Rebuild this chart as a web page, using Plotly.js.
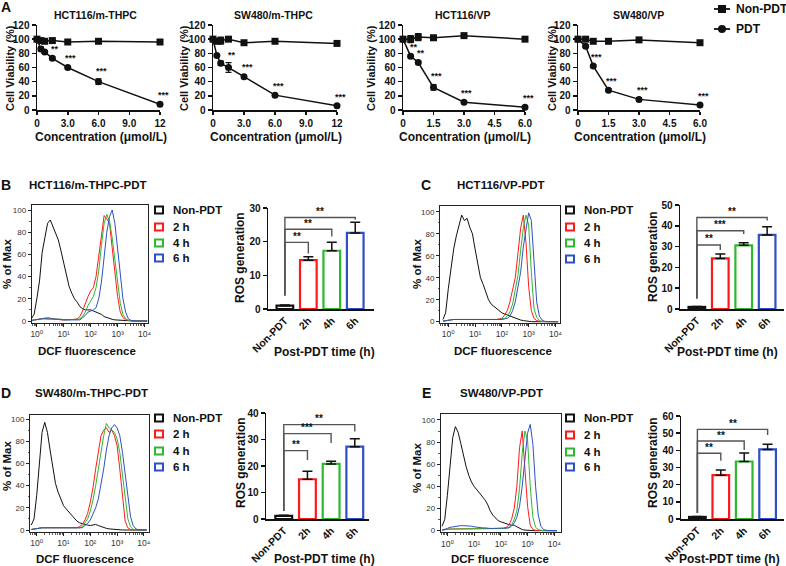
<!DOCTYPE html>
<html><head><meta charset="utf-8">
<script src="https://cdn.plot.ly/plotly-3.0.1.min.js"></script>
<style>html,body{margin:0;padding:0;background:#fff}#chart{width:786px;height:566px}</style>
</head><body><div id="chart"></div>
<script>
// ---------------- DATA ----------------
// Panel A: cell viability
const doseMTHPC = [0, 0.375, 0.75, 1.5, 3, 6, 12];
const doseVP = [0, 0.375, 0.75, 1.5, 3, 6];
const tickMTHPC = [0, 3, 6, 9, 12];
const tickMTHPCText = ['0', '3.0', '6.0', '9.0', '12'];
const tickVP = [0, 1.5, 3, 4.5, 6];
const tickVPText = ['0', '1.5', '3.0', '4.5', '6.0'];

const hctM_non = [100, 98, 97, 98, 96, 97, 96];
const hctM_nonErr = [0, 1, 1, 1, 1, 2, 1.5];
const hctM_pdt = [100, 86, 82, 73, 60, 40, 8];
const hctM_pdtErr = [0, 3, 2, 2, 1.5, 4, 1.5];
const hctM_sig = ['', '', '', '**', '***', '***', '***'];

const swM_non = [100, 97, 98, 100, 95, 97, 94];
const swM_nonErr = [0, 2, 5, 1, 2, 2, 1.5];
const swM_pdt = [100, 77, 66, 60, 47, 21, 6];
const swM_pdtErr = [0, 1.5, 3, 7, 2, 1.5, 1];
const swM_sig = ['', '', '', '**', '***', '***', '***'];

const hctV_non = [100, 100, 103, 102, 105, 100];
const hctV_nonErr = [0, 5, 5, 2, 1.5, 1.5];
const hctV_pdt = [100, 76, 67, 32, 11, 4];
const hctV_pdtErr = [0, 2, 2, 4, 1.5, 1];
const hctV_sig = ['', '**', '**', '***', '***', '***'];

const swV_non = [100, 100, 97, 97, 99, 95];
const swV_nonErr = [0, 1, 1, 1, 2, 1.5];
const swV_pdt = [100, 90, 62, 28, 15, 7];
const swV_pdtErr = [0, 2, 2, 2, 2, 1];
const swV_sig = ['', '', '***', '***', '***', '***'];

// Histograms: log10 of DCF fluorescence, % of max
const histLogX = [-0.2,-0.1,0,0.1,0.2,0.3,0.4,0.5,0.6,0.7,0.8,0.9,1,1.1,1.2,1.3,1.4,1.5,1.6,1.7,1.8,1.9,2,2.1,2.2,2.3,2.4,2.5,2.6,2.7,2.8,2.9,3,3.1,3.2,3.3,3.4,3.5,3.6,3.7,3.8,3.9,4,4.1];
const histTickVals = [1, 10, 100, 1000, 10000];
const histTickText = ['10⁰', '10¹', '10²', '10³', '10⁴'];
const histSeries = ['Non-PDT', '2 h', '4 h', '6 h'];

const histB_non = [2,6,20,36,62,77,88,91,85,80, 73,63,52,43,31,25,20,17,13,11, 10,10,10,9,8,7,6,4,3,2, 1.5,1,0.8,0.5,0.3,0.2,0,0,0,0, 0,0,0,0];
const histB_2h  = [0.5,1,1.5,2,2.5,3,3,2.5,2,1.5, 1.2,1,1,1,1,1,1.5,2,4,9, 16,22,27,30,40,58,80,95,92,88, 66,42,22,8,3,1,0.5,0,0,0, 0,0,0,0];
const histB_4h  = [0.5,1,1.5,2,2,2,2,2,2,1.5, 1.5,1.5,1,1,1,1,1,1.5,2,4, 8,14,18,22,30,45,68,88,96,90, 75,55,32,16,6,2,0.5,0,0,0, 0,0,0,0];
const histB_6h  = [0.5,1,1.5,2,2,2,2,2,2,1.5, 1.5,1.5,1,1,1,1,1,1,1,3, 5,8,9,10,12,20,35,58,80,94, 100,88,65,40,20,8,2,0.5,0,0, 0,0,0,0];

const histC_non = [2,8,30,48,66,78,88,97,92,94, 86,80,66,52,40,34,26,20,16,14, 12,10,8,7,6,5,4,3,2,1.5, 1,0.5,0.3,0,0,0,0,0,0,0, 0,0,0,0];
const histC_2h  = [0.5,1,1.5,2,2,2,2,2,2,2, 2,2,2,1.5,1.5,1.5,1.5,1.5,1.5,2, 2,2.5,3,6,10,18,28,40,62,85, 97,72,32,10,3,1,0.3,0,0,0, 0,0,0,0];
const histC_4h  = [0.5,1,1.5,2,2,2,2,2,2,2, 2,2,2,1.5,1.5,1.5,1.5,1.5,1.5,2, 2,2,2.5,3,5,9,16,28,42,65, 85,97,88,45,12,4,1,0.3,0,0, 0,0,0,0];
const histC_6h  = [0.5,1,1.5,2,2,2,2,2,2,2, 2,2,2,1.5,1.5,1.5,1.5,1.5,1.5,2, 2,2,2,2.5,3,5,10,18,30,45, 68,85,99,92,50,18,5,1.5,0.3,0, 0,0,0,0];

const histD_non = [4.5,10,31,60,88,97,88,72,56,42, 34,27,22,19,16,13,10,8,6.5,5.5, 5,4.5,4,4.5,5,4,3,2,1.5,1, 0.7,0.4,0.2,0,0,0,0,0,0,0, 0,0,0,0];
const histD_2h  = [0.5,1,1.5,2,2,2,2,2,2,2, 2,1.5,1.5,1.5,1.5,1.5,2,2,3,5, 9,15,25,38,55,72,85,90,92,88, 90,85,76,55,28,8,2,0.5,0,0, 0,0,0,0];
const histD_4h  = [0.5,1,1.5,2,2,2,2,2,2,2, 2,1.5,1.5,1.5,1.5,1.5,2,1.5,2,3, 6,10,17,27,40,55,72,85,96,92, 90,88,82,70,50,28,10,3,0.5,0, 0,0,0,0];
const histD_6h  = [0.5,1,1.5,2,2,2,2,2,2,2, 2,1.5,1.5,1.5,1.5,1.5,2,1.5,1.5,2, 4,6,9,14,20,28,40,55,72,85, 92,95,92,85,70,50,28,12,4,1, 0.2,0,0,0];

const histE_non = [4,10,32,57,84,94,89,79,68,58, 50,44,40,37,35,31,28,24,18,14, 11,9,8,7,6,5.5,5,5,3.5,2, 1,0.5,0.2,0,0,0,0,0,0,0, 0,0,0,0];
const histE_2h  = [0.5,1,1.5,1.5,1.5,1.5,1.5,1.5,1.5,1.5, 1.5,1.5,1.5,1.5,1.5,1.5,1.5,1.5,1.5,1.5, 1.5,1.5,1.5,2,3,5,10,20,40,75, 90,60,22,5,1,0.3,0,0,0,0, 0,0,0,0];
const histE_4h  = [0.5,1,1.5,1.5,1.5,1.5,1.5,1.5,1.5,1.5, 1.5,1.5,1.5,1.5,1.5,1.5,1.5,1.5,1.5,1.5, 1.5,1.5,1.5,1.5,2,3,5,10,18,38, 70,90,82,40,12,3,1,0.3,0,0, 0,0,0,0];
const histE_6h  = [0.5,1,2,3,3.5,4,4.5,4.5,4.5,4.5, 4,4,3.5,3,3,2.5,2.5,2,2,2, 2,2,2,2,2,2.5,4,7,12,22, 40,65,88,96,78,40,14,4,1,0.3, 0,0,0,0];

// ROS bar charts
const barCats = ['Non-PDT', '2h', '4h', '6h'];
const rosB = [1, 14.5, 17.3, 22.6];   const rosB_err = [0.2, 1.0, 2.5, 3.2];
const rosC = [1, 24.3, 30.6, 35.6];   const rosC_err = [0.2, 2.2, 1.3, 4.0];
const rosD = [1.2, 15, 20.8, 27.3];   const rosD_err = [0.2, 3, 1, 3];
const rosE = [1.2, 25.5, 33.5, 40.5]; const rosE_err = [0.3, 3, 5, 3];
const sigB = ['**', '**', '**'];   const brB_level = [19.8, 23.7, 27.2]; const brB_end = [16.5, 21.5, 26.5]; const brB_start = 4;
const sigC = ['**', '***', '**'];  const brC_level = [30.8, 37.6, 44];   const brC_end = [28.4, 36, 42.5];   const brC_start = 5;
const sigD = ['**', '***', '**'];  const brD_level = [25.8, 32.2, 35.6]; const brD_end = [22.3, 28.7, 33];   const brD_start = 3;
const sigE = ['**', '**', '**'];   const brE_level = [38.3, 45.4, 52.2]; const brE_end = [34, 40.2, 48.9];   const brE_start = 3.5;

// ---------------- STYLE / LAYOUT ----------------
const FONT = '"Liberation Sans", Arial, "DejaVu Sans", sans-serif';
const W = 786, H = 566;
const px = v => v / W;
const py = v => 1 - v / H;
const INK = '#111111';
const histColors = ['#111111', '#ff1a1a', '#2eb82e', '#2f4fc4'];
const barColors = ['#111111', '#ff1a1a', '#2eb82e', '#2f4fc4'];
const sfx = k => (k === 1 ? '' : String(k));
const bold = (size, color) => ({family: FONT, size: size, color: color || INK, weight: 'bold'});

const traces = [];
const annotations = [];
const shapes = [];
const layout = {
  width: W, height: H, margin: {l: 0, r: 0, t: 0, b: 0},
  paper_bgcolor: '#ffffff', plot_bgcolor: 'rgba(0,0,0,0)',
  showlegend: false, font: {family: FONT, color: INK},
  annotations: annotations, shapes: shapes
};

function label(x, y, text, size, opt) {
  const o = Object.assign({xref: 'paper', yref: 'paper', x: px(x), y: py(y), text: text, showarrow: false,
    xanchor: 'center', yanchor: 'middle', font: bold(size)}, opt || {});
  annotations.push(o);
}

// ---- Panel A ----
const panelsA = [
  {k: 1, title: 'HCT116/m-THPC', dose: doseMTHPC, non: hctM_non, nonErr: hctM_nonErr, pdt: hctM_pdt, pdtErr: hctM_pdtErr, sig: hctM_sig,
   xpx: [37, 160], xmax: 12, tv: tickMTHPC, tt: tickMTHPCText, tX: 95, yTX: 10, xTX: 101},
  {k: 2, title: 'SW480/m-THPC', dose: doseMTHPC, non: swM_non, nonErr: swM_nonErr, pdt: swM_pdt, pdtErr: swM_pdtErr, sig: swM_sig,
   xpx: [213, 337], xmax: 12, tv: tickMTHPC, tt: tickMTHPCText, tX: 273, yTX: 184, xTX: 276},
  {k: 3, title: 'HCT116/VP', dose: doseVP, non: hctV_non, nonErr: hctV_nonErr, pdt: hctV_pdt, pdtErr: hctV_pdtErr, sig: hctV_sig,
   xpx: [403, 525], xmax: 6, tv: tickVP, tt: tickVPText, tX: 462, yTX: 371, xTX: 465},
  {k: 4, title: 'SW480/VP', dose: doseVP, non: swV_non, nonErr: swV_nonErr, pdt: swV_pdt, pdtErr: swV_pdtErr, sig: swV_sig,
   xpx: [578, 700], xmax: 6, tv: tickVP, tt: tickVPText, tX: 638, yTX: 552, xTX: 640}
];
const aY = [25, 110];
panelsA.forEach(p => {
  const s = sfx(p.k);
  const common = {type: 'scatter', mode: 'lines+markers', xaxis: 'x' + s, yaxis: 'y' + s, cliponaxis: false, hoverinfo: 'skip', showlegend: false};
  traces.push(Object.assign({}, common, {name: 'Non-PDT', x: p.dose, y: p.non,
    line: {color: INK, width: 1.5}, marker: {symbol: 'square', size: 7, color: INK},
    error_y: {type: 'data', array: p.nonErr, visible: true, color: INK, thickness: 1.2, width: 3}}));
  traces.push(Object.assign({}, common, {name: 'PDT', x: p.dose, y: p.pdt,
    line: {color: INK, width: 1.5}, marker: {symbol: 'circle', size: 7, color: INK},
    error_y: {type: 'data', array: p.pdtErr, visible: true, color: INK, thickness: 1.2, width: 3}}));
  p.sig.forEach((t, i) => {
    if (!t) return;
    annotations.push({xref: 'x' + s, yref: 'y' + s, x: p.dose[i], y: p.pdt[i] + p.pdtErr[i], text: t, showarrow: false,
      xanchor: 'center', yanchor: 'middle', yshift: 8, xshift: 3, font: bold(9)});
  });
  layout['xaxis' + s] = {domain: [px(p.xpx[0]), px(p.xpx[1])], range: [0, p.xmax], anchor: 'y' + s,
    tickmode: 'array', tickvals: p.tv, ticktext: p.tt, showline: true, linecolor: INK, linewidth: 1.5,
    ticks: 'outside', ticklen: 3, tickwidth: 1.5, tickcolor: INK, tickfont: bold(10),
    showgrid: false, zeroline: false, fixedrange: true};
  layout['yaxis' + s] = {domain: [py(aY[1]), py(aY[0])], range: [0, 120], dtick: 20, anchor: 'x' + s,
    showline: true, linecolor: INK, linewidth: 1.5, ticks: 'outside', ticklen: 4, tickwidth: 1.5, tickcolor: INK,
    tickfont: bold(10), showgrid: false, zeroline: false, fixedrange: true};
  label(p.tX, 15, p.title, 10.5);
  label(p.yTX, 68, 'Cell Viability (%)', 11, {textangle: -90});
  label(p.xTX, 137.5, 'Concentration (μmol/L)', 12);
});
label(6, 7, 'A', 14);
// legend for panel A
[['Non-PDT', 9, 'square'], ['PDT', 29, 'circle']].forEach(([t, y, sym]) => {
  shapes.push({type: 'line', xref: 'paper', yref: 'paper', x0: px(714), x1: px(730), y0: py(y), y1: py(y), line: {color: INK, width: 1.8}});
  shapes.push({type: sym === 'square' ? 'rect' : 'circle', xref: 'paper', yref: 'paper',
    x0: px(718), x1: px(726), y0: py(y - 4), y1: py(y + 4), fillcolor: INK, line: {color: INK, width: 0}});
  label(734, y, t, 12, {xanchor: 'left'});
});

// ---- Histograms ----
const histX = histLogX.map(v => Math.pow(10, v));
const hists = [
  {k: 5, ys: [histB_non, histB_2h, histB_4h, histB_6h], xpx: [31.7, 148], xr: [-0.19, 4.13], ypx: [205, 323], yr: [-1.8, 104.5],
   legX: 159, legY: [210, 227, 243, 258], yTX: 7, yTY: 264, xTX: 87, xTY: 351},
  {k: 7, ys: [histC_non, histC_2h, histC_4h, histC_6h], xpx: [440, 560], xr: [-0.31, 4.17], ypx: [205.7, 323], yr: [-1.2, 105.5],
   legX: 570, legY: [210, 227, 243, 259], yTX: 417, yTY: 264, xTX: 503, xTY: 351},
  {k: 9, ys: [histD_non, histD_2h, histD_4h, histD_6h], xpx: [30, 149], xr: [-0.25, 4.19], ypx: [415, 532], yr: [-1.8, 103.6],
   legX: 159, legY: [418, 434, 451, 467], yTX: 7, yTY: 466, xTX: 85, xTY: 559},
  {k: 11, ys: [histE_non, histE_2h, histE_4h, histE_6h], xpx: [440.7, 560.7], xr: [-0.25, 4.24], ypx: [414, 532.3], yr: [-1.5, 105.4],
   legX: 570, legY: [418, 435, 452, 467], yTX: 417, yTY: 468, xTX: 500, xTY: 559}
];
hists.forEach(h => {
  const s = sfx(h.k);
  h.ys.forEach((yv, i) => {
    traces.push({type: 'scatter', mode: 'lines', x: histX, y: yv, xaxis: 'x' + s, yaxis: 'y' + s, name: histSeries[i],
      line: {color: histColors[i], width: 1}, hoverinfo: 'skip', showlegend: false});
  });
  layout['xaxis' + s] = {domain: [px(h.xpx[0]), px(h.xpx[1])], type: 'log', range: h.xr, anchor: 'y' + s,
    tickmode: 'array', tickvals: histTickVals, ticktext: histTickText, ticks: 'outside', ticklen: 3, tickwidth: 1, tickcolor: '#222',
    showline: true, mirror: true, linecolor: '#222', linewidth: 1, tickfont: {family: FONT, size: 8.5, color: '#333'},
    minor: {ticks: 'outside', ticklen: 1.5, tickwidth: 0.8, tickcolor: '#333', dtick: 'D1', showgrid: false},
    showgrid: false, zeroline: false, fixedrange: true};
  layout['yaxis' + s] = {domain: [py(h.ypx[1]), py(h.ypx[0])], range: h.yr, anchor: 'x' + s,
    tickmode: 'array', tickvals: [0, 20, 40, 60, 80, 100], ticks: 'outside', ticklen: 3, tickwidth: 1, tickcolor: '#222',
    showline: true, mirror: true, linecolor: '#222', linewidth: 1, tickfont: {family: FONT, size: 8, color: '#333'},
    minor: {ticks: 'outside', ticklen: 1.5, tickwidth: 0.8, tickcolor: '#333', tick0: 0, dtick: 10, showgrid: false},
    showgrid: false, zeroline: false, fixedrange: true};
  label(h.yTX, h.yTY, '% of Max', 11.5, {textangle: -90});
  label(h.xTX, h.xTY, 'DCF fluorescence', 11.5);
  histSeries.forEach((t, i) => {
    const y = h.legY[i];
    shapes.push({type: 'rect', xref: 'paper', yref: 'paper', x0: px(h.legX - 4), x1: px(h.legX + 4), y0: py(y + 3.5), y1: py(y - 3.5),
      fillcolor: '#ffffff', line: {color: histColors[i], width: 2}});
    label(h.legX + 12, y, t, 11.5, {xanchor: 'left'});
  });
});

// ---- Bar charts ----
const bars = [
  {k: 6, vals: rosB, errs: rosB_err, sig: sigB, lvl: brB_level, end: brB_end, start: brB_start, xpx: [268, 374], xr: [-0.72, 3.8], ypx: [208, 309], ymax: 30,
   yTX: 240, yTY: 258, xTX: 324, xTY: 352},
  {k: 8, vals: rosC, errs: rosC_err, sig: sigC, lvl: brC_level, end: brC_end, start: brC_start, xpx: [680, 784], xr: [-0.72, 3.72], ypx: [205, 309], ymax: 50,
   yTX: 653, yTY: 257, xTX: 727, xTY: 352},
  {k: 10, vals: rosD, errs: rosD_err, sig: sigD, lvl: brD_level, end: brD_end, start: brD_start, xpx: [266, 369], xr: [-0.75, 3.6], ypx: [413, 519], ymax: 40,
   yTX: 241, yTY: 463, xTX: 324, xTY: 559},
  {k: 12, vals: rosE, errs: rosE_err, sig: sigE, lvl: brE_level, end: brE_end, start: brE_start, xpx: [681, 784], xr: [-0.7, 3.7], ypx: [416, 519], ymax: 60,
   yTX: 653, yTY: 463, xTX: 729, xTY: 559}
];
bars.forEach(b => {
  const s = sfx(b.k);
  traces.push({type: 'bar', x: barCats, y: b.vals, xaxis: 'x' + s, yaxis: 'y' + s, width: 0.71,
    marker: {color: '#ffffff', line: {color: barColors, width: 2.2}},
    error_y: {type: 'data', array: b.errs, arrayminus: b.errs.map(() => 0), symmetric: false, visible: true,
      color: INK, thickness: 1.5, width: 5},
    hoverinfo: 'skip', showlegend: false, cliponaxis: false});
  b.sig.forEach((t, j) => {
    const cat = barCats[j + 1];
    traces.push({type: 'scatter', mode: 'lines', x: [barCats[0], barCats[0], cat, cat], y: [b.start, b.lvl[j], b.lvl[j], b.end[j]],
      xaxis: 'x' + s, yaxis: 'y' + s, line: {color: '#555555', width: 1.4}, hoverinfo: 'skip', showlegend: false});
    annotations.push({xref: 'x' + s, yref: 'y' + s, x: (j + 1) / 2, y: b.lvl[j], yshift: 6, text: t, showarrow: false,
      xanchor: 'center', yanchor: 'middle', font: bold(10)});
  });
  layout['xaxis' + s] = {domain: [px(b.xpx[0]), px(b.xpx[1])], type: 'category', range: b.xr, anchor: 'y' + s,
    showline: true, linecolor: INK, linewidth: 1.5, ticks: '', tickangle: -45, tickfont: bold(10.5),
    showgrid: false, zeroline: false, fixedrange: true};
  layout['yaxis' + s] = {domain: [py(b.ypx[1]), py(b.ypx[0])], range: [0, b.ymax], dtick: 10, anchor: 'x' + s,
    showline: true, linecolor: INK, linewidth: 1.5, ticks: 'outside', ticklen: 4, tickwidth: 1.5, tickcolor: INK,
    tickfont: bold(10), showgrid: false, zeroline: false, fixedrange: true};
  label(b.yTX, b.yTY, 'ROS generation', 12, {textangle: -90});
  label(b.xTX, b.xTY, 'Post-PDT time (h)', 12);
});

// panel letters and titles
label(6, 185, 'B', 14);
label(27, 185, 'HCT116/m-THPC-PDT', 11.5, {xanchor: 'left'});
label(426, 185, 'C', 14);
label(455, 185, 'HCT116/VP-PDT', 11.5, {xanchor: 'left'});
label(6, 393, 'D', 14);
label(33, 393, 'SW480/m-THPC-PDT', 11.5, {xanchor: 'left'});
label(426, 393, 'E', 14);
label(458, 393, 'SW480/VP-PDT', 11.5, {xanchor: 'left'});

Plotly.newPlot('chart', traces, layout, {staticPlot: true, displayModeBar: false});
</script></body></html>
